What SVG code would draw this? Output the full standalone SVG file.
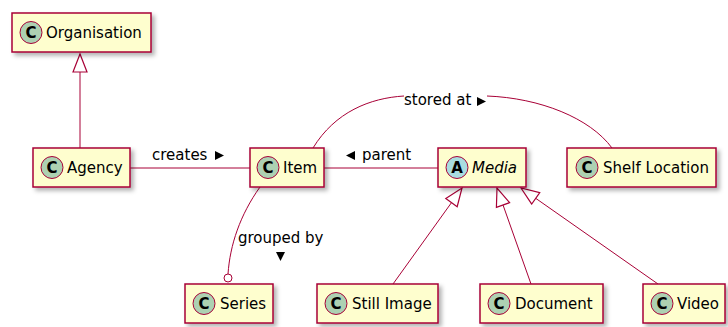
<svg xmlns="http://www.w3.org/2000/svg" width="728" height="327" viewBox="0 0 728 327">
<defs>
<filter id="sh" x="-10%" y="-20%" width="130%" height="160%">
<feDropShadow dx="3" dy="3" stdDeviation="2" flood-color="#000" flood-opacity="0.3"/>
</filter>
<marker id="ext" markerUnits="userSpaceOnUse" markerWidth="22" markerHeight="20" refX="19" refY="8" orient="auto" overflow="visible">
<path d="M1,1 L19,8 L1,15 Z" fill="#fff" stroke="#A80036" stroke-width="1.2"/>
</marker>
<style>
.box{fill:#FEFECE;stroke:#A80036;stroke-width:1.5;filter:url(#sh)}
.ic{fill:#ADD1B2;stroke:#A80036;stroke-width:1}
.ia{fill:#A9DCDF;stroke:#A80036;stroke-width:1}
.il{font-family:"DejaVu Sans",sans-serif;font-size:15px;font-weight:bold;fill:#000;text-anchor:middle}
.t{font-family:"DejaVu Sans",sans-serif;font-size:15px;fill:#000}
.lbl{font-family:"DejaVu Sans",sans-serif;font-size:15px;fill:#000}
.ln{fill:none;stroke:#A80036;stroke-width:1}
.ar{fill:#000}
</style>
</defs>
<rect width="728" height="327" fill="#fff"/>
<g id="connectors">
<path class="ln" d="M80,148 L80,54" marker-end="url(#ext)"/>
<path class="ln" d="M130,168 L250,168"/>
<text class="lbl" x="152" y="160">creates</text>
<polygon class="ar" points="215,151 224,155.5 215,160"/>
<path class="ln" d="M324,168 L438,168"/>
<polygon class="ar" points="355,151 346,155.5 355,160"/>
<text class="lbl" x="362" y="160">parent</text>
<path class="ln" d="M313,148 C335,112 370,98 404,96"/>
<text class="lbl" x="404" y="105">stored at</text>
<polygon class="ar" points="477,97 486,101.5 477,106"/>
<path class="ln" d="M487,96 C540,98 590,118 612,148"/>
<path class="ln" d="M260,187 C240,215 230,245 228,274"/>
<circle cx="228" cy="278" r="4" fill="#fff" stroke="#A80036" stroke-width="1"/>
<text class="lbl" x="238" y="243">grouped by</text>
<polygon class="ar" points="276,252 285,252 280.5,261"/>
<path class="ln" d="M393,284 L462,188" marker-end="url(#ext)"/>
<path class="ln" d="M531,284 L497,188" marker-end="url(#ext)"/>
<path class="ln" d="M658,284 L521,188" marker-end="url(#ext)"/>
</g>
<g id="organisation">
<rect class="box" x="12" y="13" width="139" height="39"/>
<circle class="ic" cx="31" cy="32.5" r="11"/>
<text class="il" x="31" y="38">C</text>
<text class="t" x="46" y="38">Organisation</text>
</g>
<g id="agency">
<rect class="box" x="33" y="148" width="97" height="39"/>
<circle class="ic" cx="52" cy="167.5" r="11"/>
<text class="il" x="52" y="173">C</text>
<text class="t" x="67" y="173">Agency</text>
</g>
<g id="item">
<rect class="box" x="250" y="148" width="74" height="39"/>
<circle class="ic" cx="268" cy="167.5" r="11"/>
<text class="il" x="268" y="173">C</text>
<text class="t" x="283" y="173">Item</text>
</g>
<g id="media">
<rect class="box" x="438" y="148" width="88" height="39"/>
<circle class="ia" cx="457" cy="167.5" r="11"/>
<text class="il" x="457" y="173">A</text>
<text class="t" x="472" y="173" font-style="italic">Media</text>
</g>
<g id="shelf-location">
<rect class="box" x="567" y="148" width="149" height="39"/>
<circle class="ic" cx="587" cy="167.5" r="11"/>
<text class="il" x="587" y="173">C</text>
<text class="t" x="603" y="173">Shelf Location</text>
</g>
<g id="series">
<rect class="box" x="185" y="284" width="88" height="39"/>
<circle class="ic" cx="204" cy="303.5" r="11"/>
<text class="il" x="204" y="309">C</text>
<text class="t" x="220" y="309">Series</text>
</g>
<g id="still-image">
<rect class="box" x="317" y="284" width="121" height="39"/>
<circle class="ic" cx="336" cy="303.5" r="11"/>
<text class="il" x="336" y="309">C</text>
<text class="t" x="352" y="309">Still Image</text>
</g>
<g id="document">
<rect class="box" x="480" y="284" width="123" height="39"/>
<circle class="ic" cx="499" cy="303.5" r="11"/>
<text class="il" x="499" y="309">C</text>
<text class="t" x="515" y="309">Document</text>
</g>
<g id="video">
<rect class="box" x="643" y="284" width="82" height="39"/>
<circle class="ic" cx="662" cy="303.5" r="11"/>
<text class="il" x="662" y="309">C</text>
<text class="t" x="677" y="309">Video</text>
</g>
</svg>
